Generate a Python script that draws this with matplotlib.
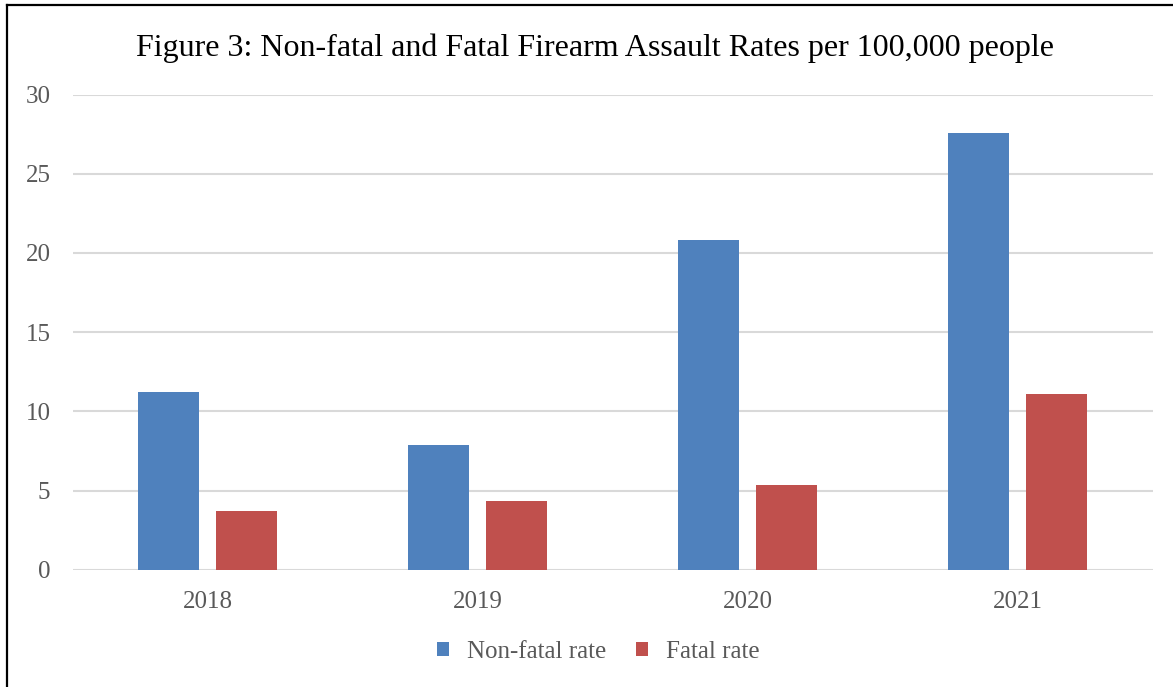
import matplotlib
matplotlib.use("Agg")
import matplotlib.pyplot as plt
import numpy as np
from matplotlib.patches import Patch
from matplotlib.lines import Line2D

# Data
years = ["2018", "2019", "2020", "2021"]
non_fatal = [11.24, 7.87, 20.8, 27.55]
fatal = [3.72, 4.31, 5.35, 11.11]
series_names = ["Non-fatal rate", "Fatal rate"]
yticks = [0, 5, 10, 15, 20, 25, 30]
title = "Figure 3: Non-fatal and Fatal Firearm Assault Rates per 100,000 people"

blue = "#4F81BD"
red = "#C0504D"
grey_text = "#595959"
serif = ["Liberation Serif", "DejaVu Serif"]

W, H = 1173, 687
fig = plt.figure(figsize=(W / 100, H / 100), dpi=100)
ax = fig.add_axes([72.7 / W, 1 - 569.7 / H, (1153 - 72.7) / W, (569.7 - 94.5) / H])

x = np.arange(len(years))
bw = 61 / 270
gap = 17 / 270
off = (bw + gap) / 2
ax.bar(x - off, non_fatal, width=bw, color=blue, zorder=3)
ax.bar(x + off, fatal, width=bw, color=red, zorder=3)

ax.set_xlim(-0.5, len(years) - 0.5)
ax.set_ylim(0, 30)
ax.set_yticks(yticks)
ax.set_xticks(x)
ax.set_xticklabels(years)
ax.yaxis.grid(True, color="#d9d9d9", linewidth=1.5, zorder=0)
ax.set_axisbelow(True)
for s in ax.spines.values():
    s.set_visible(False)
ax.tick_params(axis="both", length=0, labelsize=18, colors=grey_text)
ax.tick_params(axis="y", pad=16)
ax.tick_params(axis="x", pad=15)
for lab in ax.get_xticklabels() + ax.get_yticklabels():
    lab.set_family(serif)

fig.text(595 / W, 1 - 48 / H, title, ha="center", va="center",
         fontsize=23, family=serif, color="black")

handles = [Patch(facecolor=blue), Patch(facecolor=red)]
leg = fig.legend(handles, series_names, loc="center", ncol=2,
                 bbox_to_anchor=(598 / W, 1 - 652 / H), frameon=False,
                 prop={"family": serif, "size": 18},
                 handlelength=0.5, handleheight=0.5,
                 handletextpad=0.7, columnspacing=1.2)
for t in leg.get_texts():
    t.set_color(grey_text)

# Frame on the left and top edges
fig.add_artist(Line2D([7 / W, 7 / W], [0, 1 - 5 / H], color="black", linewidth=1.6,
                      transform=fig.transFigure))
fig.add_artist(Line2D([7 / W, 1], [1 - 5 / H, 1 - 5 / H], color="black", linewidth=1.6,
                      transform=fig.transFigure))

fig.savefig("out.png", dpi=100)
